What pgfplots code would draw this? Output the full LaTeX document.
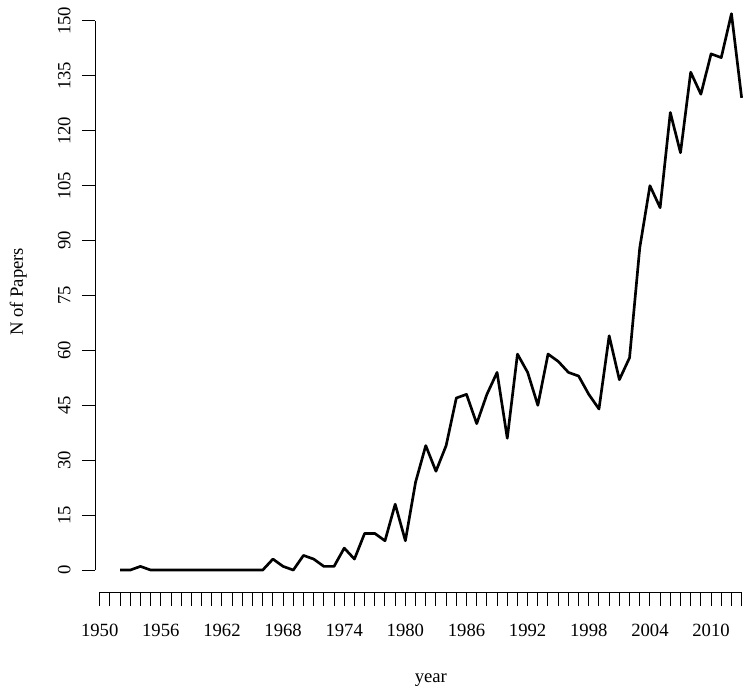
\documentclass[border=0pt]{standalone}
\usepackage{pgfplots}
\pgfplotsset{compat=1.18}
\usepackage{fontspec}
\setmainfont{Liberation Serif}

\pgfplotstableread{
year papers
1952 0
1953 0
1954 1
1955 0
1956 0
1957 0
1958 0
1959 0
1960 0
1961 0
1962 0
1963 0
1964 0
1965 0
1966 0
1967 3
1968 1
1969 0
1970 4
1971 3
1972 1
1973 1
1974 6
1975 3
1976 10
1977 10
1978 8
1979 18
1980 8
1981 24
1982 34
1983 27
1984 34
1985 47
1986 48
1987 40
1988 48
1989 54
1990 36
1991 59
1992 54
1993 45
1994 59
1995 57
1996 54
1997 53
1998 48
1999 44
2000 64
2001 52
2002 58
2003 88
2004 105
2005 99
2006 125
2007 114
2008 136
2009 130
2010 141
2011 140
2012 152
2013 129
}\papers

\begin{document}
\begin{tikzpicture}[font=\fontsize{14}{17}\selectfont]
\begin{axis}[
  scale only axis,
  width=503.475pt,
  height=450.675pt,
  xmin=1949.56, xmax=2015.44,
  ymin=-6.08, ymax=158.08,
  axis x line*=bottom,
  axis y line*=left,
  axis line style={draw=none},
  tick align=outside,
  major tick length=10pt,
  minor tick length=10pt,
  tick style={black, line width=0.75pt},
  minor tick style={black, line width=0.75pt},
  xtick={1950,1956,...,2010},
  minor xtick={1950,...,2013},
  ytick={0,15,...,150},
  scaled ticks=false,
  /pgf/number format/1000 sep={},
  /pgf/number format/assume math mode=true,
  xticklabel style={anchor=north},
  yticklabel style={rotate=90, anchor=south},
  xticklabel shift=10.5pt,
  yticklabel shift=5pt,
  xlabel={year},
  ylabel={N of Papers},
  every axis x label/.append style={at={(rel axis cs:0.5,0)}, anchor=center, yshift=-66pt},
  every axis y label/.append style={at={(rel axis cs:0,0.5)}, anchor=center, yshift=57.75pt},
  clip=false,
]
\addplot[black, line width=2pt, line join=round, mark=none] table[x=year, y=papers] {\papers};
% R-style axis lines spanning the tick range only
\draw[line width=0.75pt] (axis cs:1950,-6.08) -- (axis cs:2013,-6.08);
\draw[line width=0.75pt] (axis cs:1949.56,0) -- (axis cs:1949.56,150);
\end{axis}
\pgfresetboundingbox
\path[use as bounding box] (-71.4pt,-76.275pt) rectangle (491.85pt,444.225pt);
\end{tikzpicture}
\end{document}
